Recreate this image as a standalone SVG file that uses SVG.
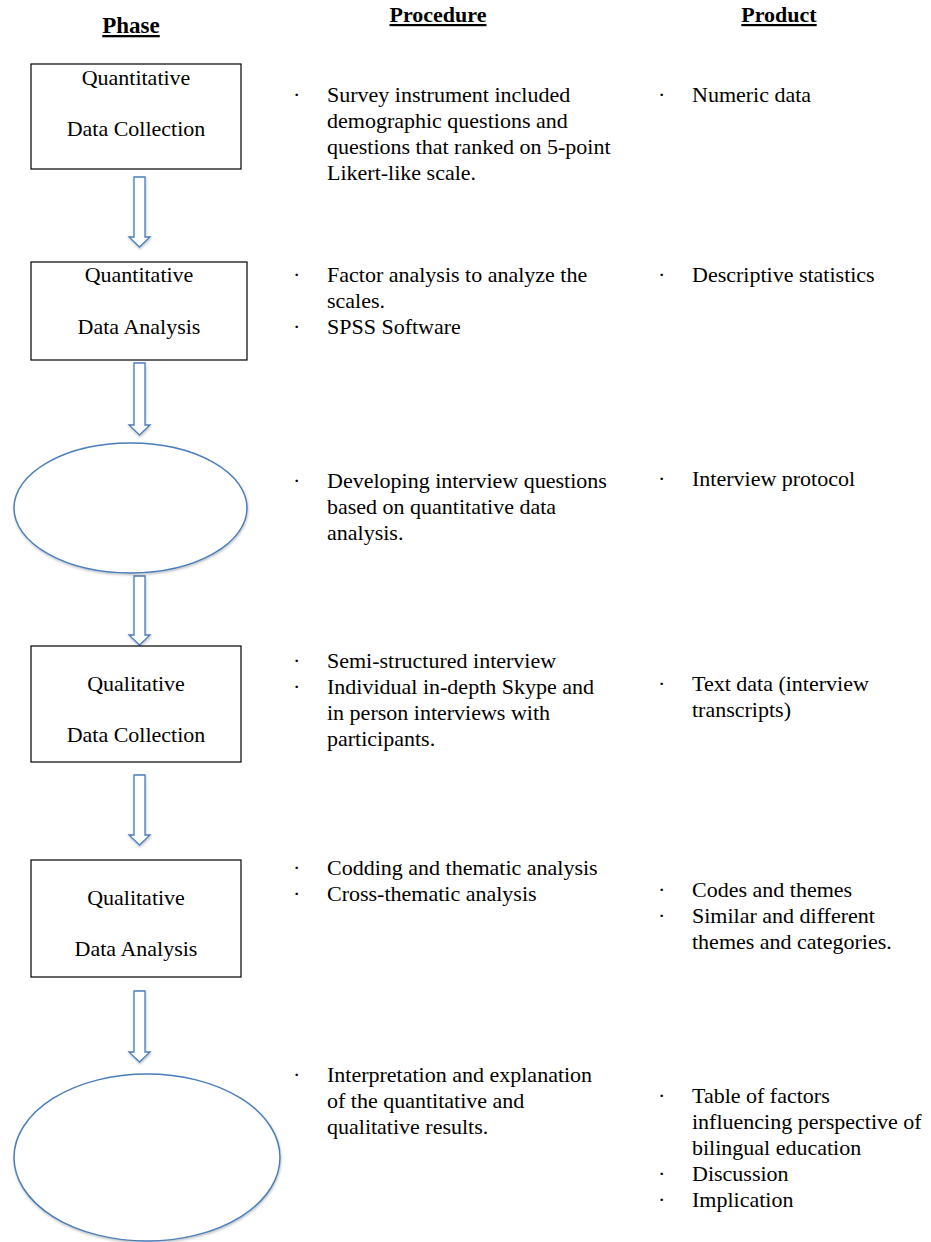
<svg xmlns="http://www.w3.org/2000/svg" width="931" height="1242" viewBox="0 0 931 1242">
<style>
text{font-family:"Liberation Serif","Times New Roman",serif;font-size:22px;fill:#000}
.h{font-weight:bold;text-decoration:underline}
.c{text-anchor:middle}
.box{fill:#fff;stroke:#000;stroke-width:1.2}
.ell{fill:#fff;stroke:#4a7ebb;stroke-width:1.5}
.arr{fill:#fff;stroke:#4a7ebb;stroke-width:1.3}
</style>
<defs>
<filter id="sh" x="-20%" y="-20%" width="140%" height="140%">
<feDropShadow dx="0.5" dy="1.5" stdDeviation="1.2" flood-color="#000" flood-opacity="0.25"/>
</filter>
</defs>
<rect width="931" height="1242" fill="#fff"/>
<g id="headers">
<text class="h c" x="131" y="33" style="font-size:23px">Phase</text>
<text class="h c" x="438" y="22">Procedure</text>
<text class="h c" x="779" y="22">Product</text>
</g>
<g id="connectors" filter="url(#sh)">
<path class="arr" d="M134,177 H145 V237 H150 L139.5,247 L129,237 H134 Z"/>
<path class="arr" d="M134,363 H145 V425 H150 L139.5,435 L129,425 H134 Z"/>
<path class="arr" d="M134,576 H145 V635 H150 L139.5,645 L129,635 H134 Z"/>
<path class="arr" d="M134,775 H145 V835 H150 L139.5,845 L129,835 H134 Z"/>
<path class="arr" d="M134,991 H145 V1052 H150 L139.5,1062 L129,1052 H134 Z"/>
</g>
<g id="n1"><rect class="box" x="31" y="64" width="210" height="105"/><text class="c" x="136" y="85">Quantitative</text><text class="c" x="136" y="136">Data Collection</text></g>
<g id="n2"><rect class="box" x="31" y="262" width="216" height="98"/><text class="c" x="139" y="282">Quantitative</text><text class="c" x="139" y="334">Data Analysis</text></g>
<g id="n3" filter="url(#sh)"><ellipse class="ell" cx="130.5" cy="508" rx="116.5" ry="65"/></g>
<g id="n4"><rect class="box" x="31" y="646" width="210" height="116"/><text class="c" x="136" y="691">Qualitative</text><text class="c" x="136" y="742">Data Collection</text></g>
<g id="n5"><rect class="box" x="31" y="860" width="210" height="117"/><text class="c" x="136" y="905">Qualitative</text><text class="c" x="136" y="956">Data Analysis</text></g>
<g id="n6" filter="url(#sh)"><ellipse class="ell" cx="147" cy="1157.5" rx="133" ry="83.5"/></g>
<g id="procedure">
<text x="293" y="102">·</text>
<text x="327" y="102">Survey instrument included</text>
<text x="327" y="128">demographic questions and</text>
<text x="327" y="154">questions that ranked on 5-point</text>
<text x="327" y="180">Likert-like scale.</text>
<text x="293" y="282">·</text>
<text x="327" y="282">Factor analysis to analyze the</text>
<text x="327" y="308">scales.</text>
<text x="293" y="334">·</text>
<text x="327" y="334">SPSS Software</text>
<text x="293" y="488">·</text>
<text x="327" y="488">Developing interview questions</text>
<text x="327" y="514">based on quantitative data</text>
<text x="327" y="540">analysis.</text>
<text x="293" y="668">·</text>
<text x="327" y="668">Semi-structured interview</text>
<text x="293" y="694">·</text>
<text x="327" y="694">Individual in-depth Skype and</text>
<text x="327" y="720">in person interviews with</text>
<text x="327" y="746">participants.</text>
<text x="293" y="875">·</text>
<text x="327" y="875">Codding and thematic analysis</text>
<text x="293" y="901">·</text>
<text x="327" y="901">Cross-thematic analysis</text>
<text x="293" y="1082">·</text>
<text x="327" y="1082">Interpretation and explanation</text>
<text x="327" y="1108">of the quantitative and</text>
<text x="327" y="1134">qualitative results.</text>
</g>
<g id="product">
<text x="658" y="102">·</text>
<text x="692" y="102">Numeric data</text>
<text x="658" y="282">·</text>
<text x="692" y="282">Descriptive statistics</text>
<text x="658" y="486">·</text>
<text x="692" y="486">Interview protocol</text>
<text x="658" y="691">·</text>
<text x="692" y="691">Text data (interview</text>
<text x="692" y="717">transcripts)</text>
<text x="658" y="897">·</text>
<text x="692" y="897">Codes and themes</text>
<text x="658" y="923">·</text>
<text x="692" y="923">Similar and different</text>
<text x="692" y="949">themes and categories.</text>
<text x="658" y="1103">·</text>
<text x="692" y="1103">Table of factors</text>
<text x="692" y="1129">influencing perspective of</text>
<text x="692" y="1155">bilingual education</text>
<text x="658" y="1181">·</text>
<text x="692" y="1181">Discussion</text>
<text x="658" y="1207">·</text>
<text x="692" y="1207">Implication</text>
</g>
</svg>
